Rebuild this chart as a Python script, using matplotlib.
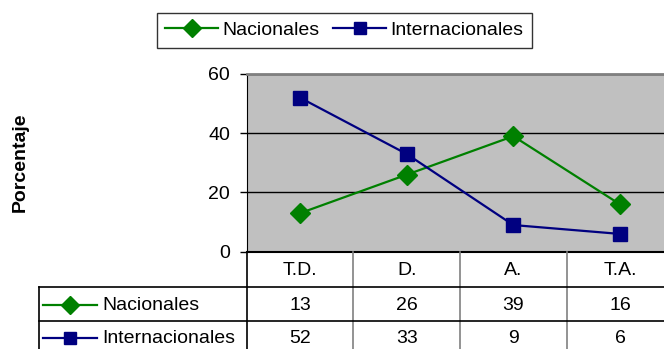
import matplotlib
matplotlib.use("Agg")
import matplotlib.pyplot as plt
from matplotlib.lines import Line2D
from matplotlib.transforms import blended_transform_factory

categories = ["T.D.", "D.", "A.", "T.A."]
nacionales = [13, 26, 39, 16]
internacionales = [52, 33, 9, 6]
series_names = ["Nacionales", "Internacionales"]
yticks = [0, 20, 40, 60]

plt.rcParams['font.family'] = ['Liberation Sans', 'DejaVu Sans']
FS = 14
W, H = 664, 349
fig = plt.figure(figsize=(W / 100, H / 100), dpi=100)

def fx(px):
    return px / W

def fy(py):
    return 1 - py / H

left, right, top, bottom = 246.7, 673.3, 74.0, 251.7
ax = fig.add_axes([fx(left), fy(bottom), fx(right - left), (bottom - top) / H])
ax.set_facecolor('#C0C0C0')

green = '#008000'
navy = '#000080'
x = list(range(len(categories)))
ax.plot(x, nacionales, color=green, lw=1.6, marker='D', markersize=10.5,
        markerfacecolor=green, markeredgecolor=green, zorder=3, clip_on=False)
ax.plot(x, internacionales, color=navy, lw=1.6, marker='s', markersize=9.5,
        markerfacecolor=navy, markeredgecolor=navy, zorder=3, clip_on=False)

ax.set_xlim(-0.5, len(categories) - 0.5)
ax.set_ylim(0, 60)
ax.set_yticks(yticks)
ax.set_xticks([])
ax.tick_params(axis='y', labelsize=FS, length=5, width=1, pad=7, color='black')
ax.set_axisbelow(True)
ax.grid(axis='y', color='black', lw=1)
ax.spines['right'].set_visible(False)
ax.spines['top'].set_color('#808080')
ax.spines['top'].set_linewidth(2)
ax.spines['left'].set_color('black')
ax.spines['bottom'].set_color('black')
ax.spines['bottom'].set_linewidth(1.5)

fig.text(fx(20), fy(162), "Porcentaje", rotation=90, ha='center', va='center',
         fontsize=FS, fontweight='bold')

# legend at top
handles = [Line2D([], [], color=green, lw=1.6, marker='D', markersize=9, markerfacecolor=green),
           Line2D([], [], color=navy, lw=1.6, marker='s', markersize=9, markerfacecolor=navy)]
leg = fig.legend(handles, series_names, loc='center', bbox_to_anchor=(fx(344.5), fy(30.5)),
                 ncol=2, fontsize=FS, frameon=True, fancybox=False, handlelength=2.7,
                 handletextpad=0.25, columnspacing=0.7, borderpad=0.45, borderaxespad=0)
leg.get_frame().set_edgecolor('black')
leg.get_frame().set_linewidth(1)

# data table
tr = blended_transform_factory(ax.transData, fig.transFigure)
row_top = [251.7, 286.7, 321.0]
row_bot = [286.7, 321.0, 355.5]
tab_left = 39
for i, cat in enumerate(categories):
    fig.text(i, fy((row_top[0] + row_bot[0]) / 2 + 1), cat, transform=tr, ha='center', va='center', fontsize=FS)
    fig.text(i, fy((row_top[1] + row_bot[1]) / 2 + 1.5), str(nacionales[i]), transform=tr, ha='center', va='center', fontsize=FS)
    fig.text(i, fy((row_top[2] + row_bot[2]) / 2), str(internacionales[i]), transform=tr, ha='center', va='center', fontsize=FS)
# vertical separators
for i in range(1, len(categories)):
    fig.add_artist(Line2D([i - 0.5, i - 0.5], [fy(251.7), fy(360)], transform=tr, color='#808080', lw=1.2))
fig.add_artist(Line2D([fx(left), fx(left)], [fy(251.7), fy(360)], color='black', lw=1.2))
fig.add_artist(Line2D([fx(tab_left), fx(tab_left)], [fy(286.7), fy(360)], color='black', lw=1.2))
for yy in [286.7, 321.0]:
    fig.add_artist(Line2D([fx(tab_left), fx(680)], [fy(yy), fy(yy)], color='black', lw=1.2))
# row headers with keys
for r, (name, col, mk, ms) in enumerate([(series_names[0], green, 'D', 9), (series_names[1], navy, 's', 9)]):
    yc = fy((row_top[r + 1] + row_bot[r + 1]) / 2 + (1.5 if r == 0 else 0))
    fig.add_artist(Line2D([fx(43), fx(97)], [yc, yc], color=col, lw=1.6))
    fig.add_artist(Line2D([fx(70)], [yc], color=col, marker=mk, markersize=ms, markerfacecolor=col))
    fig.text(fx(102), yc, name, ha='left', va='center', fontsize=FS)

fig.savefig("out.png", dpi=100)
